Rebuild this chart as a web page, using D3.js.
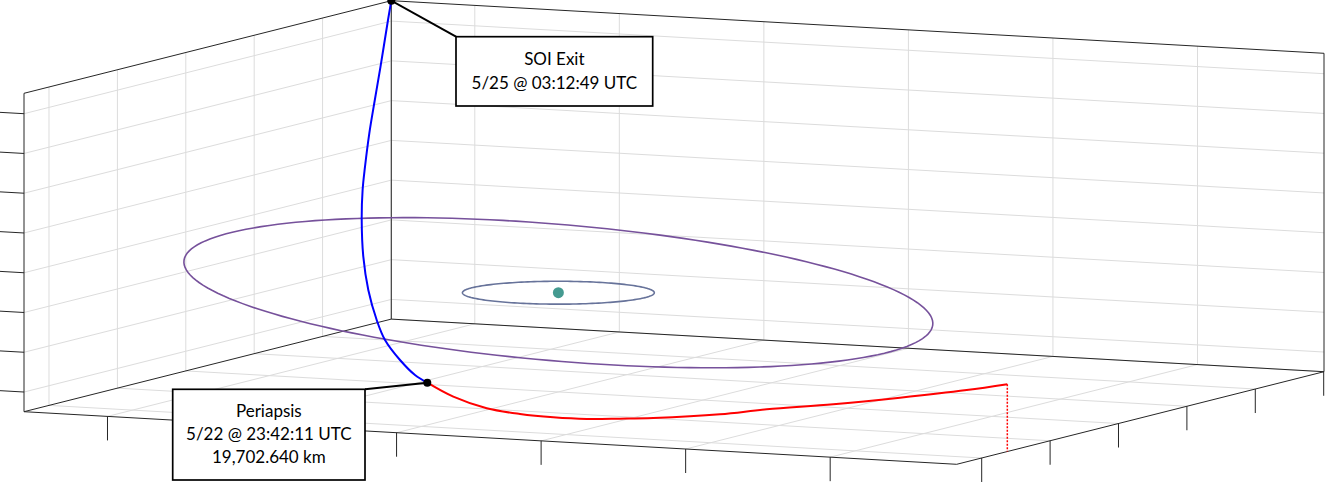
<!DOCTYPE html>
<html>
<head>
<meta charset="utf-8">
<script src="https://cdn.jsdelivr.net/npm/d3@7"></script>
<style>
  html, body { margin: 0; padding: 0; background: #ffffff; }
  svg { display: block; }
  text { font-family: Lato, "Open Sans", sans-serif; }
</style>
</head>
<body>
<svg id="chart" width="1327" height="483"></svg>
<script>
// ---------- data (km, Kerbin-centred frame) ----------
const xTicks = [-40000, -20000, 0, 20000, 40000, 60000];
const yTicks = [-40000, -20000, 0, 20000, 40000, 60000];
const zTicks = [-10000, -5000, 0, 5000, 10000, 15000, 20000, 25000];
const xLimits = [-51554, 77506];
const yLimits = [-47310, 60090];
const zLimits = [-12475, 27565];

// inbound leg: SOI entry -> periapsis (red)
const inboundX = [77506, 71736, 62095, 52357, 42493, 35708, 25715, 20625, 15499, 10183, 4740, -914, -7102, -12357];
const inboundY = [-32510, -32196, -31326, -30249, -28880, -28197, -26583, -25563, -24469, -22999, -21236, -19025, -15714, -12212];
const inboundZ = [-4000, -5066, -6624, -8068, -9351, -10402, -11555, -12013, -12433, -12651, -12706, -12519, -11736, -10625];

// outbound leg: periapsis -> SOI exit (blue)
const outboundX = [-12357, -14938, -18578, -22660, -25705, -29645, -33350, -36828, -39330, -41009, -43284, -45365, -47414, -50365, -51554];
const outboundY = [-12212, -10355, -7047, -2809, 1198, 7069, 13437, 20319, 25868, 30119, 36184, 42189, 48186, 56615, 60090];
const outboundZ = [-10625, -9990, -8648, -6803, -4878, -1944, 1364, 5054, 8097, 10480, 13906, 17336, 20769, 25577, 27565];

// moon orbits around the central body
const orbitNames = ["Mun", "Minmus"];
const orbitRadius = [12000, 47000];
const orbitInclination = [0, 6];
const orbitLAN = [0, 78];

const bodyPosition = [0, 0, 0];

const exitLabel = ["SOI Exit", "5/25 @ 03:12:49 UTC"];
const periapsisLabel = ["Periapsis", "5/22 @ 23:42:11 UTC", "19,702.640 km"];

// ---------- projection ----------
const svg = d3.select("#chart");
const origin = [24, 411.7];
const vX = [932.7, 52.6];
const vY = [367.3, -92.6];
const vZ = [0, -318.4];

const fx = d3.scaleLinear().domain(xLimits).range([0, 1]);
const fy = d3.scaleLinear().domain(yLimits).range([0, 1]);
const fz = d3.scaleLinear().domain(zLimits).range([0, 1]);

function proj(x, y, z) {
  const a = fx(x), b = fy(y), c = fz(z);
  return [origin[0] + a * vX[0] + b * vY[0] + c * vZ[0],
          origin[1] + a * vX[1] + b * vY[1] + c * vZ[1]];
}

const [x0, x1] = xLimits, [y0, y1] = yLimits, [z0, z1] = zLimits;
const gridColor = "#dcdcdc";
const axisColor = "#262626";

function seg(g, p, q, color, w, extra) {
  const l = g.append("line")
    .attr("x1", p[0]).attr("y1", p[1]).attr("x2", q[0]).attr("y2", q[1])
    .attr("stroke", color).attr("stroke-width", w);
  if (extra) extra(l);
  return l;
}

// ---------- grid ----------
const grid = svg.append("g");
xTicks.forEach(t => {
  seg(grid, proj(t, y1, z0), proj(t, y1, z1), gridColor, 1); // back wall vertical
  seg(grid, proj(t, y0, z0), proj(t, y1, z0), gridColor, 1); // floor
});
yTicks.forEach(t => {
  seg(grid, proj(x0, t, z0), proj(x0, t, z1), gridColor, 1); // left wall vertical
  seg(grid, proj(x0, t, z0), proj(x1, t, z0), gridColor, 1); // floor
});
zTicks.forEach(t => {
  seg(grid, proj(x0, y0, t), proj(x0, y1, t), gridColor, 1); // left wall
  seg(grid, proj(x0, y1, t), proj(x1, y1, t), gridColor, 1); // back wall
});

// ---------- box edges ----------
const box = svg.append("g");
[
  [[x0, y0, z0], [x0, y0, z1]],
  [[x0, y0, z1], [x0, y1, z1]],
  [[x0, y1, z0], [x0, y1, z1]],
  [[x0, y0, z0], [x0, y1, z0]],
  [[x0, y1, z1], [x1, y1, z1]],
  [[x1, y1, z0], [x1, y1, z1]],
  [[x0, y1, z0], [x1, y1, z0]],
  [[x0, y0, z0], [x1, y0, z0]],
  [[x1, y0, z0], [x1, y1, z0]]
].forEach(([p, q]) => seg(box, proj(...p), proj(...q), axisColor, 1));

// ---------- ticks ----------
const tickLen = 24;
xTicks.forEach(t => {
  const p = proj(t, y0, z0);
  seg(box, p, [p[0], p[1] + tickLen], axisColor, 1);
});
yTicks.forEach(t => {
  const p = proj(x1, t, z0);
  seg(box, p, [p[0], p[1] + tickLen], axisColor, 1);
});
const xDirLen = Math.hypot(vX[0], vX[1]);
zTicks.forEach(t => {
  const p = proj(x0, y0, t);
  seg(box, p, [p[0] - 30 * vX[0] / xDirLen, p[1] - 30 * vX[1] / xDirLen], axisColor, 1);
});

// ---------- orbits ----------
const line = d3.line();
const orbitColors = ["#67739a", "#76519b"];
const orbitWidths = [1.6, 1.6];
orbitRadius.forEach((R, k) => {
  const inc = orbitInclination[k] * Math.PI / 180;
  const lan = orbitLAN[k] * Math.PI / 180;
  const pts = d3.range(0, 361, 2).map(deg => {
    const u = deg * Math.PI / 180;
    const x = bodyPosition[0] + R * (Math.cos(u) * Math.cos(lan) - Math.sin(u) * Math.cos(inc) * Math.sin(lan));
    const y = bodyPosition[1] + R * (Math.cos(u) * Math.sin(lan) + Math.sin(u) * Math.cos(inc) * Math.cos(lan));
    const z = bodyPosition[2] + R * Math.sin(u) * Math.sin(inc);
    return proj(x, y, z);
  });
  svg.append("path").attr("d", line(pts) + "Z")
    .attr("fill", "none").attr("stroke", orbitColors[k]).attr("stroke-width", orbitWidths[k])
    .attr("data-name", orbitNames[k]);
});

// central body
const bp = proj(...bodyPosition);
svg.append("circle").attr("cx", bp[0]).attr("cy", bp[1]).attr("r", 5.5).attr("fill", "#449a90");

// ---------- trajectory ----------
const smooth = d3.line().curve(d3.curveCatmullRom.alpha(0.5));
const inPts = inboundX.map((x, i) => proj(x, inboundY[i], inboundZ[i]));
const outPts = outboundX.map((x, i) => proj(x, outboundY[i], outboundZ[i]));

svg.append("path").attr("d", smooth(inPts)).attr("fill", "none")
  .attr("stroke", "#ff0000").attr("stroke-width", 2);
// drop line from SOI entry to the floor
seg(svg, proj(inboundX[0], inboundY[0], inboundZ[0]), proj(inboundX[0], inboundY[0], z0), "#ff0000", 1.5,
  l => l.attr("stroke-dasharray", "2,1.5"));

svg.append("path").attr("d", smooth(outPts)).attr("fill", "none")
  .attr("stroke", "#0000ff").attr("stroke-width", 2);

// ---------- annotations ----------
const peri = outPts[0];
const exitP = outPts[outPts.length - 1];

function callout(lines, rect, anchorPt, cornerPt, baselines) {
  seg(svg, anchorPt, cornerPt, "#000", 2);
  svg.append("rect").attr("x", rect[0]).attr("y", rect[1]).attr("width", rect[2]).attr("height", rect[3])
    .attr("fill", "#fff").attr("stroke", "#000").attr("stroke-width", 1.7);
  lines.forEach((s, i) => {
    svg.append("text").attr("x", rect[0] + rect[2] / 2).attr("y", baselines[i])
      .attr("text-anchor", "middle").attr("font-size", 17).attr("fill", "#000").text(s);
  });
}

callout(exitLabel, [456, 36.7, 196.7, 69.3], exitP, [456, 36.7], [65, 88.5]);
callout(periapsisLabel, [172.7, 389.3, 192.3, 90.7], peri, [365, 389.3], [416.8, 440, 462.5]);

[peri, exitP].forEach(p => {
  svg.append("circle").attr("cx", p[0]).attr("cy", p[1]).attr("r", 4).attr("fill", "#000");
});
</script>
</body>
</html>
